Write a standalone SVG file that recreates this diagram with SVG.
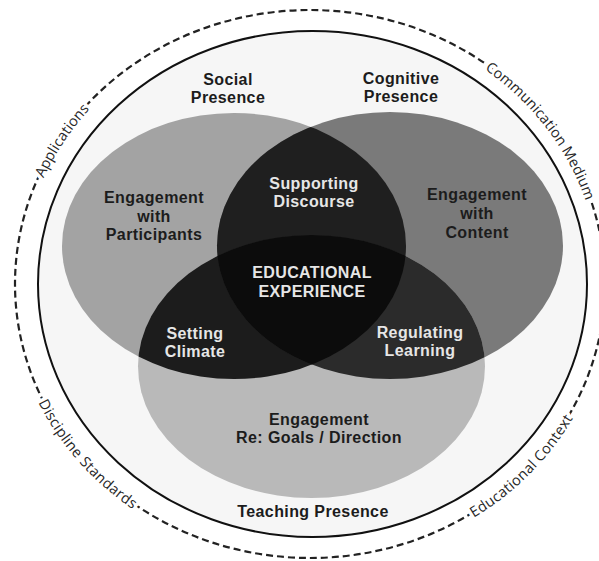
<svg xmlns="http://www.w3.org/2000/svg" width="599" height="561" viewBox="0 0 599 561">
<defs>
<style>
.lbl{font-family:"Liberation Sans",Arial,sans-serif;font-weight:bold;font-size:16px;letter-spacing:0.4px;text-anchor:middle}
.dk{fill:#1c1c1c}
.lt{fill:#e6e6e6}
.ctx{font-family:"Open Sans","Liberation Sans",sans-serif;font-size:14.5px;letter-spacing:0.2px;fill:#262626}
.halo{fill:#ffffff;stroke:#ffffff;stroke-width:7px;stroke-linejoin:round}
.ring{fill:none;stroke:#222;stroke-width:2.2;stroke-dasharray:7 4}
</style>
<clipPath id="cS"><ellipse cx="234" cy="246" rx="172" ry="133"/></clipPath>
<clipPath id="cC"><ellipse cx="390" cy="245.5" rx="173" ry="133.5"/></clipPath>
<path id="pApp" d="M17,252.5 A295,274 0 0 1 147.6,55.3"/>
<path id="pCom" d="M442.1,39 A295,274 0 0 1 604.5,267.8"/>
<path id="pEdu" d="M399.2,545.2 A295,274 0 0 0 598.1,342.8"/>
<path id="pDis" d="M24,351.2 A295,274 0 0 0 181.6,530.7"/>
</defs>
<rect width="599" height="561" fill="#ffffff"/>

<g id="context-ring">
<ellipse class="ring" cx="310" cy="284" rx="295" ry="274"/>
<g class="ctx halo">
<text dy="0.35em"><textPath href="#pApp" startOffset="50%" text-anchor="middle">Applications</textPath></text>
<text dy="0.35em"><textPath href="#pCom" startOffset="47%" text-anchor="middle">Communication Medium</textPath></text>
<text dy="0.35em"><textPath href="#pEdu" startOffset="50%" text-anchor="middle">Educational Context</textPath></text>
<text dy="0.35em"><textPath href="#pDis" startOffset="50%" text-anchor="middle">Discipline Standards</textPath></text>
</g>
<g class="ctx">
<text dy="0.35em"><textPath href="#pApp" startOffset="50%" text-anchor="middle">Applications</textPath></text>
<text dy="0.35em"><textPath href="#pCom" startOffset="47%" text-anchor="middle">Communication Medium</textPath></text>
<text dy="0.35em"><textPath href="#pEdu" startOffset="50%" text-anchor="middle">Educational Context</textPath></text>
<text dy="0.35em"><textPath href="#pDis" startOffset="50%" text-anchor="middle">Discipline Standards</textPath></text>
</g>
</g>

<g id="boundary">
<ellipse cx="312.5" cy="284" rx="274.5" ry="253" fill="#f6f6f6" stroke="#111" stroke-width="2"/>
</g>

<g id="social-presence">
<ellipse cx="234" cy="246" rx="172" ry="133" fill="#a3a3a3"/>
</g>
<g id="cognitive-presence">
<ellipse cx="390" cy="245.5" rx="173" ry="133.5" fill="#7a7a7a"/>
</g>
<g id="teaching-presence">
<ellipse cx="311.5" cy="366.5" rx="173.5" ry="131.5" fill="#b9b9b9"/>
</g>
<g id="supporting-discourse" clip-path="url(#cS)">
<ellipse cx="390" cy="245.5" rx="173" ry="133.5" fill="#1f1f1f"/>
</g>
<g id="setting-climate" clip-path="url(#cS)">
<ellipse cx="311.5" cy="366.5" rx="173.5" ry="131.5" fill="#1c1c1c"/>
</g>
<g id="regulating-learning" clip-path="url(#cC)">
<ellipse cx="311.5" cy="366.5" rx="173.5" ry="131.5" fill="#2b2b2b"/>
</g>
<g id="educational-experience" clip-path="url(#cS)">
<g clip-path="url(#cC)">
<ellipse cx="311.5" cy="366.5" rx="173.5" ry="131.5" fill="#0c0c0c"/>
</g>
</g>

<g id="labels">
<text class="lbl dk" x="228" y="85">Social</text>
<text class="lbl dk" x="228" y="103">Presence</text>
<text class="lbl dk" x="401" y="84">Cognitive</text>
<text class="lbl dk" x="401" y="102">Presence</text>
<text class="lbl dk" x="154" y="203">Engagement</text>
<text class="lbl dk" x="154" y="222">with</text>
<text class="lbl dk" x="154" y="240">Participants</text>
<text class="lbl lt" x="314" y="189">Supporting</text>
<text class="lbl lt" x="314" y="207">Discourse</text>
<text class="lbl dk" x="477" y="200">Engagement</text>
<text class="lbl dk" x="477" y="219">with</text>
<text class="lbl dk" x="477" y="238">Content</text>
<text class="lbl lt" x="312" y="278">EDUCATIONAL</text>
<text class="lbl lt" x="312" y="297">EXPERIENCE</text>
<text class="lbl lt" x="195" y="339">Setting</text>
<text class="lbl lt" x="195" y="357">Climate</text>
<text class="lbl lt" x="420" y="338">Regulating</text>
<text class="lbl lt" x="420" y="356">Learning</text>
<text class="lbl dk" x="319" y="425">Engagement</text>
<text class="lbl dk" x="319" y="443">Re: Goals / Direction</text>
<text class="lbl dk" x="313" y="517">Teaching Presence</text>
</g>
</svg>
